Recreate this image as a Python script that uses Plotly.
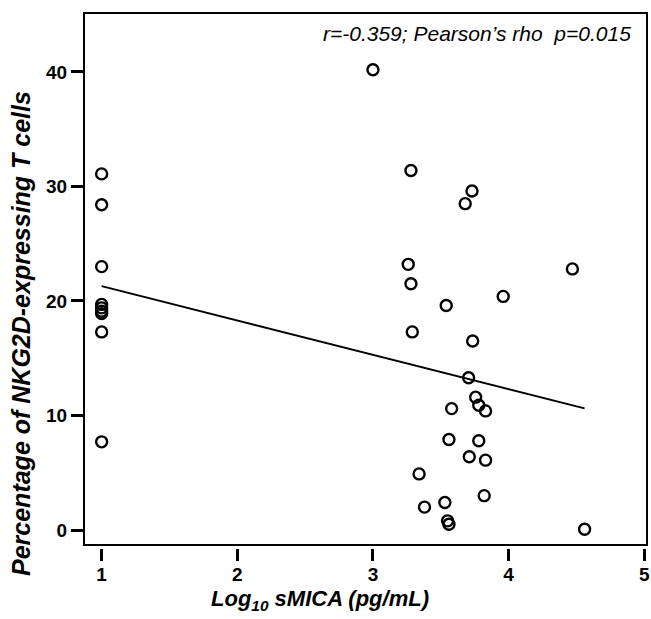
import plotly.graph_objects as go

# Data
log_smica = [1, 1, 1, 1, 1, 1, 1, 1, 1,
             3.00, 3.28, 3.73, 3.68, 3.26, 3.28, 3.54, 3.29, 3.735, 3.96, 4.47,
             3.705, 3.757, 3.78, 3.83, 3.58, 3.56, 3.78, 3.71, 3.83, 3.34,
             3.82, 3.38, 3.53, 3.55, 3.56, 4.56]
pct_nkg2d = [31.1, 28.4, 23.0, 19.7, 19.4, 19.1, 18.9, 17.3, 7.7,
             40.2, 31.4, 29.6, 28.5, 23.2, 21.5, 19.6, 17.3, 16.5, 20.4, 22.8,
             13.3, 11.6, 10.9, 10.4, 10.6, 7.9, 7.8, 6.4, 6.1, 4.9,
             3.0, 2.0, 2.4, 0.8, 0.5, 0.06]
fit_x = [1.0, 4.56]
fit_intercept = 24.3
fit_slope = -3.0
x_ticks = [1, 2, 3, 4, 5]
y_ticks = [0, 10, 20, 30, 40]
annotation_text = "r=-0.359; Pearson\u2019s rho  p=0.015"
x_title = "Log<sub>10</sub> sMICA (pg/mL)"
y_title = "Percentage of NKG2D-expressing T cells"

FONT = "Liberation Sans, Arial, sans-serif"

# pixel geometry helpers (plot paper: x 84..647, y 13..548)
W, H = 651, 619
ML, MR, MT, MB = 84, 4, 13, 71
PW, PH = W - ML - MR, H - MT - MB
def px(xp):
    return (xp - ML) / PW
def py(yp):
    return (H - MB - yp) / PH

fig = go.Figure()
fig.add_trace(go.Scatter(
    x=fit_x, y=[fit_intercept + fit_slope * v for v in fit_x],
    mode="lines", line=dict(color="black", width=2), hoverinfo="skip"))
fig.add_trace(go.Scatter(
    x=log_smica, y=pct_nkg2d, mode="markers",
    marker=dict(symbol="circle-open", size=11, color="black",
                line=dict(color="black", width=2.4))))

fig.add_shape(type="rect", xref="x domain", yref="y domain",
              x0=0, x1=1, y0=0, y1=1, line=dict(color="black", width=2))

fig.add_annotation(text="<i>" + annotation_text + "</i>", xref="paper", yref="paper",
                   x=px(633), y=py(33), xanchor="right", yanchor="middle", showarrow=False,
                   font=dict(family=FONT, size=21, color="black"))
fig.add_annotation(text="<b><i>" + x_title + "</i></b>", xref="paper", yref="paper",
                   x=px(320), y=py(600), xanchor="center", yanchor="middle", showarrow=False,
                   font=dict(family=FONT, size=22, color="black"))
fig.add_annotation(text="<b><i>" + y_title + "</i></b>", xref="paper", yref="paper",
                   x=px(21), y=py(334), xanchor="center", yanchor="middle", showarrow=False,
                   textangle=-90, font=dict(family=FONT, size=25, color="black"))

fig.update_layout(
    width=W, height=H,
    margin=dict(l=ML, r=MR, t=MT, b=MB, autoexpand=False),
    paper_bgcolor="white", plot_bgcolor="white",
    showlegend=False,
    font=dict(family=FONT, color="black"),
    xaxis=dict(range=[0.87, 5.02], tickvals=x_ticks,
               ticktext=["<b>%d</b>" % v for v in x_ticks],
               ticks="outside", ticklen=12, tickwidth=2.5, tickcolor="black",
               showgrid=False, zeroline=False, showline=False,
               anchor="free", position=0, automargin=False, ticklabelstandoff=-3,
               tickfont=dict(family=FONT, size=19, color="black")),
    yaxis=dict(range=[-1.31, 45.15], domain=[3 / PH, 1], tickvals=y_ticks,
               ticktext=["<b>%d</b>" % v for v in y_ticks],
               ticks="outside", ticklen=12, tickwidth=2.5, tickcolor="black",
               showgrid=False, zeroline=False, showline=False, automargin=False,
               tickfont=dict(family=FONT, size=19, color="black")),
)

fig.write_html("out.html", config={"displayModeBar": False},
               post_script="document.body.style.margin='0px';document.body.style.overflow='hidden';")
